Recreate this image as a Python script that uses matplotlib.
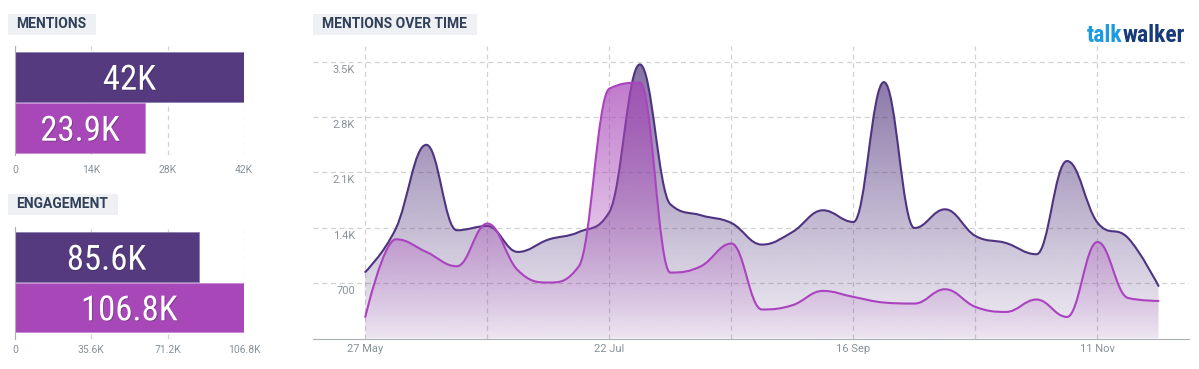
import numpy as np
import pandas as pd
import matplotlib
matplotlib.use("Agg")
import matplotlib.pyplot as plt
import matplotlib.dates as mdates
import matplotlib.patheffects as pe
from matplotlib import font_manager
from matplotlib.path import Path
from matplotlib.patches import PathPatch, Rectangle
from matplotlib.transforms import offset_copy

# totals for the two left panels (dark series first, magenta second)
mention_totals = [42000, 23900]
engagement_totals = [85600, 106800]

# weekly mentions, starting 27 May
week_start = "2019-05-27"
dark_weekly = [842, 1390, 2450, 1369, 1423, 1095, 1251, 1347, 1600, 3467, 1698, 1559, 1461, 1188,
               1347, 1622, 1474, 3243, 1398, 1634, 1297, 1208, 1066, 2245, 1466, 1272, 665]
magenta_weekly = [273, 1255, 1095, 914, 1454, 863, 708, 914, 3160, 3236, 834, 914, 1201, 367,
                  421, 602, 526, 455, 442, 623, 400, 336, 493, 273, 1221, 513, 475]
y_ticks = [700, 1400, 2100, 2800, 3500]
y_labels = ["700", "1.4K", "2.1K", "2.8K", "3.5K"]

DARK = "#553a80"
MAGENTA = "#a847b8"
DARK_LINE = "#4e3480"
MAGENTA_LINE = "#ab42bf"
TITLE_BG = "#eef0f3"
TITLE_FG = "#2f4058"
TICK_FG = "#87929a"
GRID = "#d2d2d2"


def pick_font(names):
    for n in names:
        try:
            font_manager.findfont(n, fallback_to_default=False)
            return n
        except ValueError:
            pass
    return "DejaVu Sans"


NARROW = pick_font(["Liberation Sans Narrow", "Roboto Condensed", "Roboto"])
plt.rcParams["font.family"] = ["Roboto", "DejaVu Sans"]

W, H = 1199, 369
fig = plt.figure(figsize=(W / 100, H / 100), dpi=100)


def px_axes(x0, y0, x1, y1):
    return fig.add_axes([x0 / W, 1 - y1 / H, (x1 - x0) / W, (y1 - y0) / H])


def title_box(x0, y0, x1, y1, text):
    fig.add_artist(Rectangle((x0 / W, 1 - y1 / H), (x1 - x0) / W, (y1 - y0) / H,
                             transform=fig.transFigure, facecolor=TITLE_BG, edgecolor="none"))
    fig.text((x0 + 8.5) / W, 1 - (y0 + y1) / 2 / H, text, ha="left", va="center",
             fontsize=10, fontweight="bold", color=TITLE_FG)


def k_label(v):
    if v == 0:
        return "0"
    return f"{v / 1000:.1f}".rstrip("0").rstrip(".") + "K"


def bar_panel(ax, totals, ylim):
    ax.barh([0, 1], totals, height=0.98, color=[DARK, MAGENTA],
            edgecolor=["#8f7fb0", "#c88ad4"], linewidth=0.6, zorder=3)
    ax.set_ylim(*ylim)
    top = max(totals)
    ax.set_xlim(0, top)
    ticks = np.linspace(0, top, 4)
    ax.set_xticks(ticks)
    ax.set_xticklabels([k_label(t) for t in ticks])
    ax.set_yticks([])
    ax.tick_params(axis="x", length=0, pad=7, labelsize=7.5, labelcolor=TICK_FG)
    ax.grid(axis="x", color=GRID, linestyle=(0, (4, 3)), linewidth=0.9, zorder=0)
    for s in ["top", "right", "bottom"]:
        ax.spines[s].set_visible(False)
    ax.spines["left"].set_color("#a9b1b5")
    ax.spines["left"].set_zorder(4)
    for i, v in enumerate(totals):
        ax.text(v / 2, i, k_label(v), ha="center", va="center_baseline", color="white",
                fontsize=25, family=NARROW, zorder=5,
                path_effects=[pe.withSimplePatchShadow(offset=(0.6, -0.6), shadow_rgbFace="#222222",
                                                       alpha=0.35)])
    ax.patch.set_alpha(0)


# ---------- left panels ----------
title_box(8, 14, 96, 34.5, "MENTIONS")
ax_m = px_axes(15, 46, 244, 155)
bar_panel(ax_m, mention_totals, (1.535, -0.602))

title_box(8, 194, 118, 215, "ENGAGEMENT")
ax_e = px_axes(15, 227, 244, 339)
bar_panel(ax_e, engagement_totals, (1.626, -0.587))
ax_e.tick_params(axis="x", pad=4)


# ---------- mentions over time ----------
def spline_path(xs, ys, smoothing=1.5):
    # highcharts-style spline through the weekly points
    n = len(xs)
    denom = smoothing + 1
    lc = [None] * n
    rc = [None] * n
    for i in range(1, n - 1):
        px, py = xs[i], ys[i]
        lx, ly = xs[i - 1], ys[i - 1]
        nx, ny = xs[i + 1], ys[i + 1]
        lcx = (smoothing * px + lx) / denom
        lcy = (smoothing * py + ly) / denom
        rcx = (smoothing * px + nx) / denom
        rcy = (smoothing * py + ny) / denom
        corr = ((rcy - lcy) * (rcx - px)) / (rcx - lcx) + py - rcy
        lcy += corr
        rcy += corr
        if lcy > ly and lcy > py:
            lcy = max(ly, py)
            rcy = 2 * py - lcy
        elif lcy < ly and lcy < py:
            lcy = min(ly, py)
            rcy = 2 * py - lcy
        if rcy > ny and rcy > py:
            rcy = max(ny, py)
            lcy = 2 * py - rcy
        elif rcy < ny and rcy < py:
            rcy = min(ny, py)
            lcy = 2 * py - rcy
        lc[i] = (lcx, lcy)
        rc[i] = (rcx, rcy)
    verts = [(xs[0], ys[0])]
    codes = [Path.MOVETO]
    for i in range(1, n):
        c1 = rc[i - 1] if rc[i - 1] is not None else (xs[i - 1], ys[i - 1])
        c2 = lc[i] if lc[i] is not None else (xs[i], ys[i])
        verts += [c1, c2, (xs[i], ys[i])]
        codes += [Path.CURVE4] * 3
    return verts, codes


def area_series(ax, xs, ys, color, line_color, a_top, a_bot, z):
    verts, codes = spline_path(xs, ys)
    line = PathPatch(Path(verts, codes), facecolor="none", edgecolor=line_color,
                     linewidth=1.5, zorder=z + 1, capstyle="round", joinstyle="round")
    fverts = verts + [(xs[-1], 0), (xs[0], 0), (xs[0], ys[0])]
    fcodes = codes + [Path.LINETO, Path.LINETO, Path.CLOSEPOLY]
    clip = PathPatch(Path(fverts, fcodes), facecolor="none", edgecolor="none",
                     transform=ax.transData)
    ax.add_patch(clip)
    rgb = np.array(matplotlib.colors.to_rgb(color))
    grad = np.zeros((256, 1, 4))
    grad[:, 0, :3] = rgb
    grad[:, 0, 3] = np.linspace(a_bot, a_top, 256)
    im = ax.imshow(grad, extent=[xs[0], xs[-1], 0, max(ys)], origin="lower",
                   aspect="auto", zorder=z, interpolation="bilinear")
    im.set_clip_path(clip)
    ax.add_patch(line)


title_box(313, 14, 477, 34.5, "MENTIONS OVER TIME")
ax = px_axes(313, 46, 1189, 338.5)
dates = pd.date_range(week_start, periods=len(dark_weekly), freq="7D")
xs = mdates.date2num(dates.to_pydatetime())

area_series(ax, xs, dark_weekly, DARK, DARK_LINE, 0.72, 0.08, 2)
area_series(ax, xs, magenta_weekly, MAGENTA, MAGENTA_LINE, 0.72, 0.06, 4)

ax.set_xlim(xs[0] - 12, xs[0] + 189)
ax.set_ylim(0, 3700)
ax.set_xticks(xs[::8])
ax.set_xticks(xs[::4], minor=True)
ax.xaxis.set_major_formatter(mdates.DateFormatter("%d %b"))
ax.tick_params(axis="x", which="both", length=0, pad=4, labelsize=8, labelcolor=TICK_FG)
ax.set_yticks(y_ticks)
ax.set_yticklabels([])
ax.tick_params(axis="y", length=0)
ax.grid(axis="y", color=GRID, linestyle=(0, (4, 3)), linewidth=0.9, zorder=0)
ax.grid(axis="x", which="both", color=GRID, linestyle=(0, (4, 3)), linewidth=0.9, zorder=0)
ax.set_axisbelow(True)
for s in ["top", "right", "left"]:
    ax.spines[s].set_visible(False)
ax.spines["bottom"].set_color("#a9b1b5")
ax.spines["bottom"].set_zorder(6)

lab_tr = offset_copy(ax.get_yaxis_transform(), fig=fig, x=0, y=-8, units="dots")
for v, lab in zip(y_ticks, y_labels):
    ax.text((355 - 313) / (1189 - 313), v, lab, transform=lab_tr, ha="right", va="center",
            fontsize=8, color=TICK_FG, zorder=7)

# logo
t1 = fig.text(1087 / W, 1 - 42 / H, "talk", ha="left", va="baseline", fontsize=17,
              fontweight="bold", family=NARROW, color="#1e9be0")
fig.add_artist(matplotlib.text.Annotation("walker", xy=(1, 0), xycoords=t1, ha="left",
                                          va="bottom", fontsize=17, fontweight="bold",
                                          family=NARROW, color="#173a7a"))

fig.savefig("out.png", dpi=100)
